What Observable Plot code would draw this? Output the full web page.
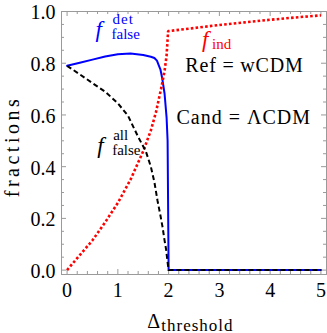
<!DOCTYPE html>
<html><head><meta charset="utf-8">
<script src="https://cdn.jsdelivr.net/npm/d3@7"></script>
<script src="https://cdn.jsdelivr.net/npm/@observablehq/plot@0.6"></script>
<style>body{margin:0;background:#fff} svg text{font-family:'Liberation Serif','Times New Roman',serif;}</style>
</head><body><div id="chart"></div>
<script>
// f_false^det (blue, solid)
const detX = [0,0.25,0.5,0.75,1.0,1.25,1.5,1.65,1.72,1.77,1.81,1.84,1.87,1.92,1.96,1.98,2.0,2.5,3,3.5,4,4.5,5];
const detY = [0.79,0.802,0.814,0.826,0.835,0.838,0.832,0.825,0.82,0.81,0.79,0.775,0.746,0.683,0.59,0.50,0,0,0,0,0,0,0];
// f_false^all (black, dashed)
const allX = [0,0.25,0.5,0.75,1.0,1.2,1.4,1.55,1.65,1.72,1.78,1.84,1.88,1.92,1.95,1.98,2.0,2.5,3,3.5,4,4.5,5];
const allY = [0.79,0.757,0.723,0.69,0.645,0.597,0.515,0.46,0.40,0.34,0.27,0.21,0.167,0.115,0.08,0.03,0,0,0,0,0,0,0];
// f_ind (red, dotted)
const indX = [0,0.25,0.5,0.75,1.0,1.25,1.5,1.65,1.75,1.85,1.92,1.96,1.99,2.5,3,3.5,4,4.5,5];
const indY = [0,0.058,0.115,0.185,0.26,0.35,0.46,0.54,0.61,0.70,0.77,0.83,0.924,0.936,0.948,0.958,0.968,0.977,0.985];

const xTicks = [0,1,2,3,4,5];
const yTicks = [0,0.2,0.4,0.6,0.8,1.0];
const xMinor = d3.range(0, 5.001, 0.2).filter(v => Math.abs(v - Math.round(v)) > 1e-6);
const yMinor = d3.range(0, 1.001, 0.05).filter(v => Math.abs(v*5 - Math.round(v*5)) > 1e-6);

const texts = {
  f: "f", det: "det", all: "all", false: "false", ind: "ind",
  ref: "Ref = wCDM", cand: "Cand = \u039BCDM",
  yLabel: "fractions", xDelta: "\u0394", xSub: "threshold"
};

const W = 327, H = 333, mL = 61, mR = 1, mT = 11, mB = 59;
const innerW = W - mL - mR, innerH = H - mT - mB;
const tickColor = "#9a9a9a";
const serif = "'Liberation Serif', 'Times New Roman', serif";
const series = (xs, ys) => xs.map((x, i) => ({x, y: ys[i]}));
const T = (o) => ({fontFamily: serif, textAnchor: "start", lineAnchor: "bottom", ...o});

const chart = Plot.plot({
  width: W, height: H,
  marginLeft: mL, marginRight: mR, marginTop: mT, marginBottom: mB,
  style: {fontFamily: serif, fontSize: "20px", background: "white", color: "black"},
  x: {domain: [-0.11, 5.11]},
  y: {domain: [-0.017, 1.0]},
  marks: [
    Plot.frame({stroke: tickColor, strokeWidth: 1}),
    Plot.tickX(xTicks, {stroke: tickColor, insetTop: innerH - 5}),
    Plot.tickX(xTicks, {stroke: tickColor, insetBottom: innerH - 5}),
    Plot.tickX(xMinor, {stroke: tickColor, insetTop: innerH - 3}),
    Plot.tickX(xMinor, {stroke: tickColor, insetBottom: innerH - 3}),
    Plot.tickY(yTicks, {stroke: tickColor, insetRight: innerW - 5}),
    Plot.tickY(yTicks, {stroke: tickColor, insetLeft: innerW - 5}),
    Plot.tickY(yMinor, {stroke: tickColor, insetRight: innerW - 3}),
    Plot.tickY(yMinor, {stroke: tickColor, insetLeft: innerW - 3}),
    Plot.axisX(xTicks, {anchor: "bottom", tickSize: 0, tickPadding: 8.5, fontSize: 20, fontFamily: serif, label: null}),
    Plot.axisY(yTicks, {anchor: "left", tickSize: 0, tickPadding: 6, fontSize: 20, fontFamily: serif, dy: 1.5, label: null, tickFormat: d3.format(".1f")}),
    // curves
    Plot.line(series(detX, detY), {x: "x", y: "y", stroke: "blue", strokeWidth: 2}),
    Plot.line(series(indX, indY), {x: "x", y: "y", stroke: "red", strokeWidth: 2.6, strokeDasharray: "2.6,2.2", strokeLinecap: "butt", strokeLinejoin: "miter"}),
    Plot.line(series(allX, allY), {x: "x", y: "y", stroke: "black", strokeWidth: 2, strokeDasharray: "5,3", strokeLinecap: "butt"}),
    // annotations
    Plot.text([texts.f], T({x: 0.56, y: 0.90, fill: "blue", fontStyle: "italic", fontSize: 23})),
    Plot.text([texts.det], T({x: 0.56, y: 0.90, dx: 17, dy: -13.4, fill: "blue", fontSize: 15})),
    Plot.text([texts.false], T({x: 0.56, y: 0.90, dx: 16, dy: 1.6, fill: "blue", fontSize: 15})),
    Plot.text([texts.f], T({x: 0.593, y: 0.451, fill: "black", fontStyle: "italic", fontSize: 23})),
    Plot.text([texts.all], T({x: 0.593, y: 0.451, dx: 16, dy: -13, fill: "black", fontSize: 15})),
    Plot.text([texts.false], T({x: 0.593, y: 0.451, dx: 15, dy: 2, fill: "black", fontSize: 15})),
    Plot.text([texts.f], T({x: 2.66, y: 0.862, fill: "red", fontStyle: "italic", fontSize: 23})),
    Plot.text([texts.ind], T({x: 2.66, y: 0.862, dx: 10, dy: 2, fill: "red", fontSize: 15})),
    Plot.text([texts.ref], T({x: 2.33, y: 0.765, fill: "black", fontSize: 20})),
    Plot.text([texts.cand], T({x: 2.155, y: 0.566, fill: "black", fontSize: 20})),
    // axis titles
    Plot.text([texts.yLabel], T({frameAnchor: "left", y: 0.478, dx: -42.7, rotate: -90, fontSize: 20, textAnchor: "middle", fill: "black"})),
    Plot.text([texts.xDelta], T({frameAnchor: "bottom", x: 1.58, dy: 53, fontSize: 20, fill: "black"})),
    Plot.text([texts.xSub], T({frameAnchor: "bottom", x: 1.58, dx: 14, dy: 56, fontSize: 17, fill: "black"}))
  ]
});

const spacing = {"fractions": "3.5px", "Ref = wCDM": "0.8px", "Cand = \u039BCDM": "1px", "threshold": "1px", "det": "1px"};
d3.select(chart).selectAll("text").each(function() {
  const s = spacing[this.textContent];
  if (s) this.setAttribute("letter-spacing", s);
});
document.getElementById("chart").appendChild(chart);
</script>
</body></html>
